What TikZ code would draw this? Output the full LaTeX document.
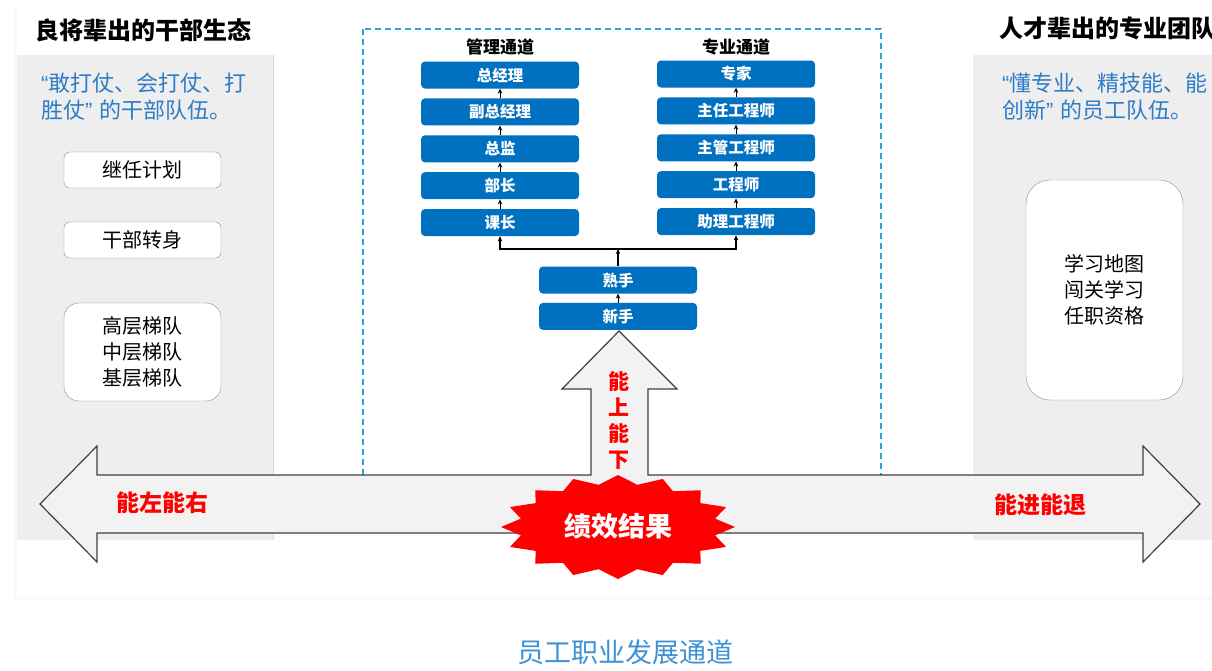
\documentclass[tikz,border=0pt]{standalone}
\usepackage{fontspec}
\setmainfont{Noto Sans CJK SC}
\newfontfamily\quotefont{Liberation Sans}
\usetikzlibrary{positioning,arrows.meta}
\definecolor{boxblue}{HTML}{0070C0}
\definecolor{textblue}{HTML}{2C7CC6}
\definecolor{titleblue}{HTML}{3C92D4}
\definecolor{panelgray}{HTML}{EFEEEF}
\definecolor{arrowgray}{HTML}{F2F2F2}
\definecolor{dashblue}{HTML}{2EA5D8}
\newcommand{\fsz}[2]{\fontsize{#1}{#2}\selectfont}
\newcommand{\openq}{{\quotefont “}}
\newcommand{\closeq}{{\quotefont ”}\kern7pt}

\begin{document}
\begin{tikzpicture}[x=1pt,y=-1pt,
    rung/.style={fill=boxblue, rounded corners=4pt, minimum width=158pt, minimum height=27pt,
        inner sep=0pt, text=white, font=\fsz{15.5}{18}\bfseries},
    item/.style={draw=black!45, fill=white, rounded corners=6pt, minimum width=157pt,
        minimum height=36pt, inner sep=0pt, align=center, font=\fsz{20}{26}},
    up/.style={-{Stealth[length=5pt,width=4.5pt]}, line width=0.9pt},
    heading/.style={font=\fsz{24}{28}\bfseries, anchor=west, inner sep=0pt},
    motto/.style={text=textblue, font=\fsz{22}{27}, align=left, anchor=west, inner sep=0pt},
    slogan/.style={text=red, font=\fsz{23}{26}\bfseries}]
    \useasboundingbox (0,0) rectangle (1212,670);
    % card and side panels
    \fill[black!2] (14,7) rectangle (1214,600);
    \fill[white] (17,5) rectangle (1212,595);
    \fill[panelgray] (17,55) rectangle (273,540);
    \draw[black!15] (273,55) -- (273,540);
    \fill[panelgray] (973,55) rectangle (1212,540);
    \draw[dashblue, line width=1.3pt, dash pattern=on 6pt off 4pt] (363,29) rectangle (881,480);

    % left side
    \node[heading] (lhead) at (35,30) {良将辈出的干部生态};
    \node[motto] (ldesc) at (41,97) {\openq 敢打仗、会打仗、打\\胜仗\closeq 的干部队伍。};
    \node[item] (succ) at (142.5,170) {继任计划};
    \node[item] (turn) at (142.5,240) {干部转身};
    \node[item, minimum height=98pt, rounded corners=15pt] (tier) at (142.5,352) {高层梯队\\中层梯队\\基层梯队};

    % right side
    \node[heading] (rhead) at (999,28) {人才辈出的专业团队};
    \node[motto] (rdesc) at (1002,97) {\openq 懂专业、精技能、能\\创新\closeq 的员工队伍。};
    \node[item, minimum height=220pt, rounded corners=24pt] (learn) at (1104.5,290) {学习地图\\闯关学习\\任职资格};

    % two channels
    \node[font=\fsz{17}{20}\bfseries] (mhead) at (500,47) {管理通道};
    \node[font=\fsz{17}{20}\bfseries] (phead) at (736,47) {专业通道};
    \node[rung] (zjl) at (500,75) {总经理};
    \node[rung, below=9.5pt of zjl] (fzjl) {副总经理};
    \node[rung, below=9.5pt of fzjl] (zongjian) {总监};
    \node[rung, below=9.5pt of zongjian] (buzhang) {部长};
    \node[rung, below=9.5pt of buzhang] (kezhang) {课长};
    \node[rung] (zhuanjia) at (736,74) {专家};
    \node[rung, below=9.5pt of zhuanjia] (zrgcs) {主任工程师};
    \node[rung, below=9.5pt of zrgcs] (zggcs) {主管工程师};
    \node[rung, below=9.5pt of zggcs] (gcs) {工程师};
    \node[rung, below=9.5pt of gcs] (zlgcs) {助理工程师};
    \node[rung] (shoushou) at (618,280) {熟手};
    \node[rung, below=9pt of shoushou] (xinshou) {新手};

    \draw[up] (fzjl) -- (zjl);
    \draw[up] (zongjian) -- (fzjl);
    \draw[up] (buzhang) -- (zongjian);
    \draw[up] (kezhang) -- (buzhang);
    \draw[up] (zrgcs) -- (zhuanjia);
    \draw[up] (zggcs) -- (zrgcs);
    \draw[up] (gcs) -- (zggcs);
    \draw[up] (zlgcs) -- (gcs);
    \draw[up] (xinshou) -- (shoushou);
    \coordinate (fork) at (618,249);
    \draw[up, line width=1.2pt] (shoushou.north) -- (fork);
    \draw[up, line width=1.2pt] (fork) -| (kezhang.south);
    \draw[up, line width=1.2pt] (fork) -| (zlgcs.south);

    % block arrows
    \filldraw[fill=arrowgray, draw=black!75, line width=1.2pt, line join=miter]
        (40,504) -- (97,446) -- (97,475) -- (591,475) -- (591,389) -- (562,389) -- (619,331)
        -- (677,389) -- (648,389) -- (648,475) -- (1143,475) -- (1143,446) -- (1200,504)
        -- (1143,562) -- (1143,533) -- (97,533) -- (97,562) -- cycle;
    \node[slogan] (leftright) at (162,503) {能左能右};
    \node[slogan] (forthback) at (1040,505) {能进能退};
    \node[slogan, font=\fsz{21}{26}\bfseries, align=center] (updown) at (619,420) {能\\上\\能\\下};

    % performance burst
    \fill[red] (735,527) \foreach \a in {0,22.5,...,337.5} {
        -- ({618+117*cos(\a)},{527+52*sin(\a)}) -- ({618+99*cos(\a+11.25)},{527+43*sin(\a+11.25)}) } -- cycle;
    \node[text=white, font=\fsz{27}{30}\bfseries] (perf) at (618,526) {绩效结果};

    \node[text=titleblue, font=\fsz{27}{30}] (caption) at (625,652) {员工职业发展通道};
\end{tikzpicture}
\end{document}
